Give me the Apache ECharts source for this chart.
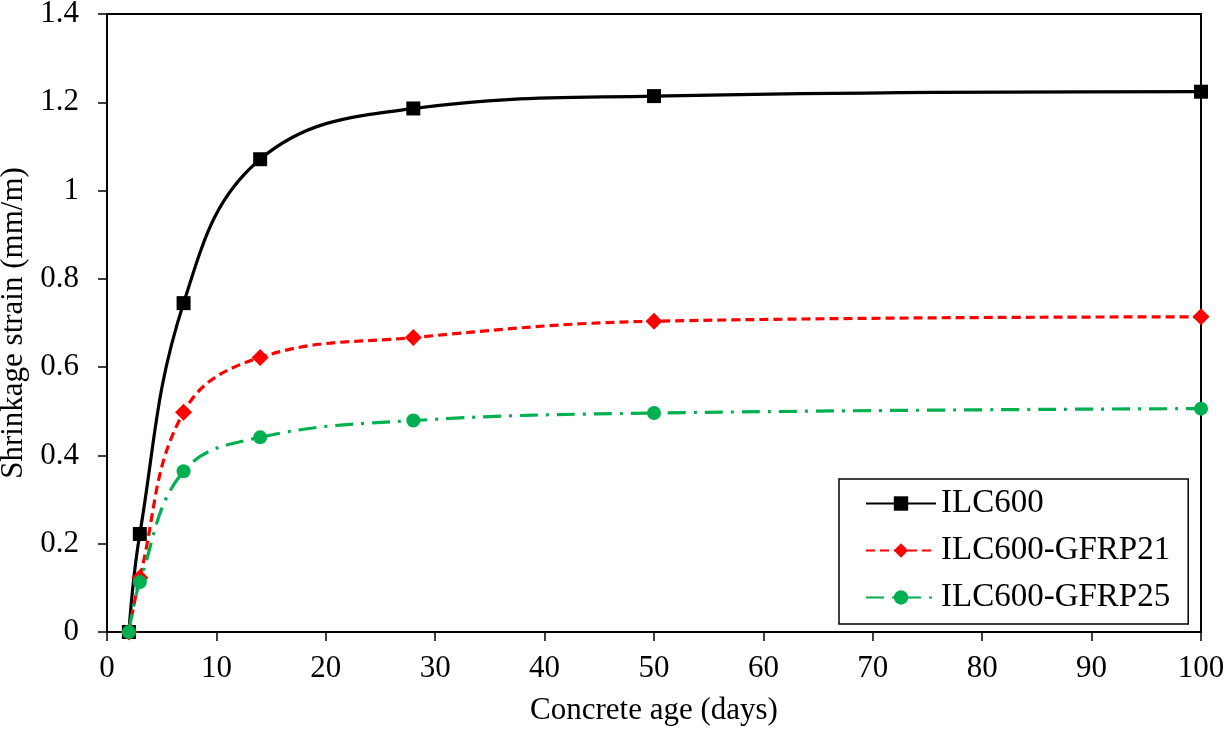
<!DOCTYPE html>
<html>
<head>
<meta charset="utf-8">
<script src="https://cdn.jsdelivr.net/npm/echarts@6/dist/echarts.min.js"></script>
<style>
  html, body { margin: 0; padding: 0; background: #fff; }
  #chart { width: 1225px; height: 732px; }
</style>
</head>
<body>
<div id="chart"></div>
<script>
// concrete age (days)
const ages = [2, 3, 7, 14, 28, 50, 100];
// shrinkage strain (mm/m)
const ilc600 = [0, 0.222, 0.745, 1.071, 1.186, 1.214, 1.224];
const gfrp21 = [0, 0.123, 0.498, 0.622, 0.667, 0.704, 0.714];
const gfrp25 = [0, 0.113, 0.364, 0.441, 0.479, 0.496, 0.506];

const seriesNames = ['ILC600', 'ILC600-GFRP21', 'ILC600-GFRP25'];

const FONT = '"Liberation Serif", "Times New Roman", serif';

const pair = vals => ages.map((a, i) => [a, vals[i]]);

const chart = echarts.init(document.getElementById('chart'));

const option = {
  backgroundColor: '#fff',
  animation: false,
  textStyle: { fontFamily: FONT, color: '#000' },
  grid: {
    left: 107, top: 14, right: 24, bottom: 100,
    containLabel: false,
    outerBoundsMode: 'none',
    show: true, borderColor: '#000', borderWidth: 2, backgroundColor: 'transparent'
  },
  xAxis: {
    type: 'value',
    min: 0, max: 100, interval: 10,
    name: 'Concrete age (days)',
    nameLocation: 'middle',
    nameGap: 63,
    nameTextStyle: { fontFamily: FONT, fontSize: 31, color: '#000' },
    axisLine: { show: true, onZero: false, lineStyle: { color: '#000', width: 2 } },
    axisTick: { show: true, inside: false, length: 9, lineStyle: { color: '#000', width: 1.5 } },
    axisLabel: { fontFamily: FONT, fontSize: 31, color: '#000', margin: 21 },
    splitLine: { show: false }
  },
  yAxis: {
    type: 'value',
    min: 0, max: 1.4, interval: 0.2,
    name: 'Shrinkage strain (mm/m)',
    nameLocation: 'middle',
    nameGap: 64,
    nameRotate: 90,
    nameTextStyle: { fontFamily: FONT, fontSize: 31, color: '#000' },
    axisLine: { show: true, onZero: false, lineStyle: { color: '#000', width: 2 } },
    axisTick: { show: true, inside: false, length: 9, lineStyle: { color: '#000', width: 1.5 } },
    axisLabel: { fontFamily: FONT, fontSize: 31, color: '#000', margin: 28 },
    splitLine: { show: false }
  },
  legend: {
    orient: 'vertical',
    left: 839, top: 479,
    padding: [8, 18, 10, 26],
    itemGap: 14,
    itemWidth: 70,
    itemHeight: 18,
    backgroundColor: '#fff',
    borderColor: '#000',
    borderWidth: 1.5,
    borderRadius: 0,
    textStyle: { fontFamily: FONT, fontSize: 33, color: '#000', width: 240 },
    data: seriesNames
  },
  series: [
    {
      name: seriesNames[0],
      type: 'line',
      data: pair(ilc600),
      smooth: 0.4,
      symbol: 'rect',
      symbolSize: 14,
      itemStyle: { color: '#000' },
      lineStyle: { color: '#000', width: 3.2, type: 'solid' },
      z: 3
    },
    {
      name: seriesNames[1],
      type: 'line',
      data: pair(gfrp21),
      smooth: 0.4,
      symbol: 'diamond',
      symbolSize: 17,
      itemStyle: { color: '#ff0000' },
      lineStyle: { color: '#ff0000', width: 3.2, type: [9, 5] },
      z: 4
    },
    {
      name: seriesNames[2],
      type: 'line',
      data: pair(gfrp25),
      smooth: 0.4,
      symbol: 'circle',
      symbolSize: 14,
      itemStyle: { color: '#00b050' },
      lineStyle: { color: '#00b050', width: 3.2, type: [18, 8, 3, 8] },
      z: 5
    }
  ]
};

chart.setOption(option);
</script>
</body>
</html>
